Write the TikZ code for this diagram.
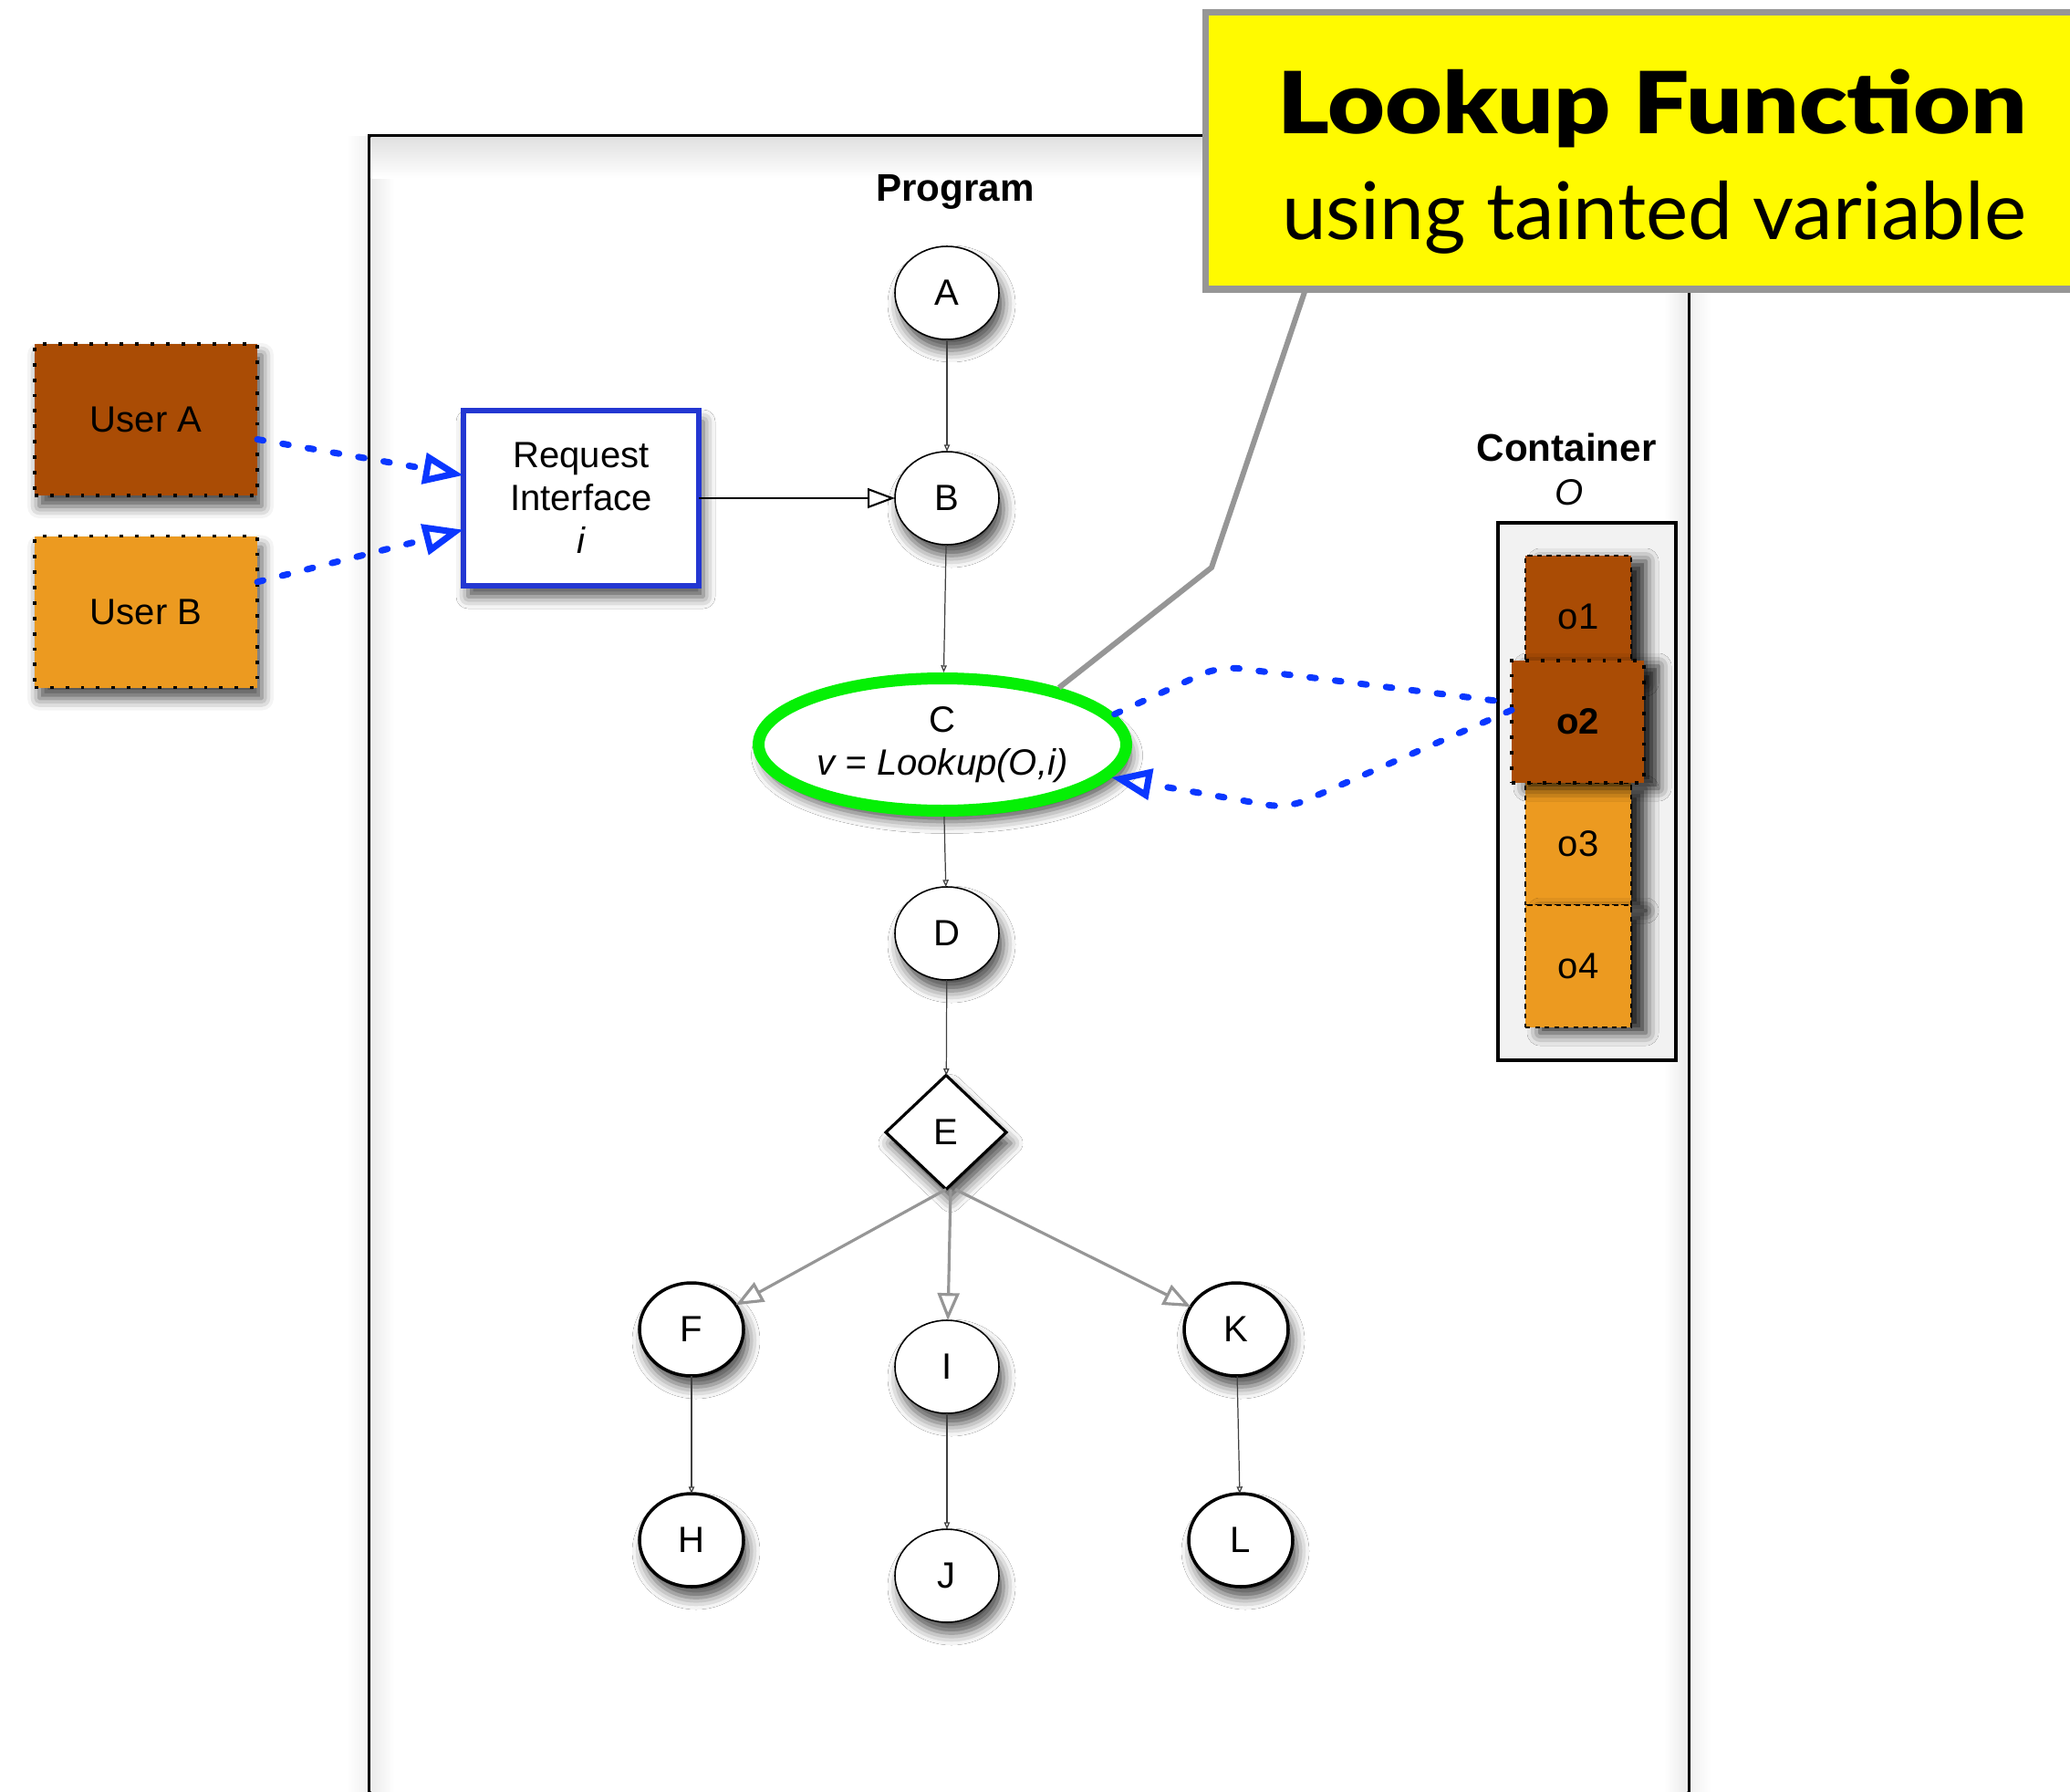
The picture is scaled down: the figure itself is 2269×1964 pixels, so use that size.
\documentclass[tikz,border=0pt]{standalone}
\usepackage{fontspec}
\setmainfont{Liberation Sans}
\newfontfamily\titlefont{Lato}
\newfontfamily\titleheavy{Lato Black}
\usetikzlibrary{arrows.meta,shapes.geometric,shadows.blur}

\definecolor{ubrown}{RGB}{170,76,5}
\definecolor{uorange}{RGB}{236,154,32}
\definecolor{ablue}{RGB}{10,55,255}
\definecolor{riblue}{RGB}{35,55,210}
\definecolor{cgreen}{RGB}{5,240,5}
\definecolor{tyellow}{RGB}{255,250,0}
\definecolor{egray}{RGB}{150,150,150}

\begin{document}
\begin{tikzpicture}[x=0.1mm,y=-0.1mm,
  every node/.style={font=\fontsize{11.4}{13.4}\selectfont, inner sep=0pt, outer sep=0pt},
  softshadow/.style={blur shadow={shadow xshift=0.5mm, shadow yshift=-1.2mm, shadow blur radius=1.3mm, shadow opacity=70}},
  stackshadow/.style={blur shadow={shadow xshift=1.6mm, shadow yshift=-0.6mm, shadow blur radius=1.4mm, shadow opacity=85}},
  thinnode/.style={ellipse, draw, line width=0.45pt, fill=white, minimum width=11.4mm, minimum height=10.2mm, softshadow},
  thicknode/.style={thinnode, line width=1pt},
  flow/.style={draw=black!75, line width=0.35pt, -{Triangle[open,length=2.2pt,width=1.8pt]}},
  branch/.style={draw=egray, line width=0.9pt, -{Triangle[open,length=8.5pt,width=6.8pt]}},
  taint/.style={draw=ablue, line width=2pt, line cap=round, dash pattern=on 1.9pt off 6.1pt},
  taintarrow/.style={taint, -{Triangle[open,length=12.5pt,width=9.5pt]}},
  userbox/.style={rectangle, draw=black, line width=1.1pt, dash pattern=on 1.1pt off 3.7pt, minimum width=24.4mm, minimum height=16.6mm, softshadow},
  objbox/.style={rectangle, draw=black, line width=0.4pt, dash pattern=on 1.5pt off 1.5pt, minimum width=11.6mm, minimum height=13.4mm, stackshadow},
  boldlabel/.style={font=\fontsize{12}{14}\selectfont\bfseries, anchor=base},
]
\useasboundingbox (0,0) rectangle (2269,1964);
\clip (0,0) rectangle (2269,1964);

% Program box
\shade[left color=white, right color=black!6] (380,149) rectangle (405,1964);
\shade[left color=black!6, right color=white] (1851,149) rectangle (1876,1964);
\draw[line width=1pt, fill=white] (405,149) rectangle (1851,2000);
\shade[left color=black!8, right color=white] (406.5,150.5) rectangle (432,1964);
\shade[left color=white, right color=black!8] (1824,150.5) rectangle (1849.5,1964);
\shade[top color=black!12, bottom color=white] (406.5,150.5) rectangle (1849.5,195);
\node[boldlabel] (proglabel) at (1047,220) {Program};

% users and interface
\node[userbox, fill=ubrown] (UA) at (160,460) {User A};
\node[userbox, fill=uorange] (UB) at (160,670.5) {User B};
\node[rectangle, draw=riblue, line width=1.7pt, fill=white, minimum width=25.8mm, minimum height=19.2mm, align=center, softshadow] (RI) at (637,546) {Request\\Interface\\\textit{i}};

% program nodes
\node[thinnode] (A) at (1038,321) {A};
\node[thinnode] (B) at (1038,546) {B};
\node[ellipse, draw=cgreen, line width=3.7pt, fill=white, minimum width=40.3mm, minimum height=14.5mm, outer sep=1.85pt, align=center, softshadow] (C) at (1033,816) {C\\\textit{v = Lookup(O,i)}};
\node[thinnode] (D) at (1038,1023) {D};
\node[diamond, draw, line width=0.9pt, fill=white, aspect=1, minimum width=13.2mm, minimum height=12.5mm, softshadow] (E) at (1037,1241) {E};
\node[thicknode] (F) at (758,1457) {F};
\node[thinnode] (I) at (1038,1498) {I};
\node[thicknode] (K) at (1355,1457) {K};
\node[thicknode] (H) at (758,1688) {H};
\node[thinnode] (J) at (1038,1727) {J};
\node[thicknode] (L) at (1360,1688) {L};

% container
\node[boldlabel] (contlabel) at (1717,505) {Container};
\node[anchor=base] (contO) at (1720,553) {\textit{O}};
\node[rectangle, draw, line width=1pt, fill=black!5, minimum width=19.5mm, minimum height=58.9mm] (cont) at (1739.5,867.5) {};
\node[objbox, fill=ubrown] (o1) at (1730,676) {o1};
\node[objbox, fill=uorange] (o3) at (1730,925) {o3};
\node[objbox, fill=uorange] (o4) at (1730,1059) {o4};
\node[rectangle, draw=black, line width=1.1pt, dash pattern=on 1.1pt off 3.7pt, fill=ubrown, minimum width=14.5mm, minimum height=13.4mm, stackshadow, font=\fontsize{11.4}{13.4}\selectfont\bfseries] (o2) at (1729.5,791) {o2};

% flow edges
\draw[flow] (A) -- (B);
\draw[flow] (B) -- (C);
\draw[flow] (C) -- (D);
\draw[flow] (D) -- (E);
\draw[flow] (F) -- (H);
\draw[flow] (I) -- (J);
\draw[flow] (K) -- (L);
\draw[branch] (E.south) -- (F);
\draw[branch] ([xshift=0.5mm]E.south) -- (I);
\draw[branch] ([xshift=1mm]E.south) -- (K);
\draw[line width=0.6pt, -{Triangle[open,length=8.5pt,width=6.2pt]}] (RI) -- (B);

% tainted data flow
\draw[taintarrow] (UA.-10) -- (RI.169);
\draw[taintarrow] (UB.15) -- (RI.195);
\coordinate (ub) at (1337,730);
\coordinate (lb) at (1411,886);
\draw[taint, rounded corners=6pt] (C.10) -- (ub) -- (o2.164);
\draw[taintarrow, rounded corners=6pt] (o2.170) -- (lb) -- (C.-11);

% callout
\coordinate (cb) at (1328,622);
\coordinate (ce) at (1430,320);
\draw[egray, line width=1.7pt] (C.26) -- (cb) -- (ce);
\node[rectangle, draw=egray, line width=2pt, fill=tyellow, anchor=north west, minimum width=97.85mm, minimum height=30.35mm] (title) at (1321.5,13.5) {};
\node[anchor=base, font=\titleheavy\fontsize{26.7}{30}\selectfont] (t1) at (1811,146) {\resizebox{82.2mm}{\height}{Lookup Function}};
\node[anchor=base, font=\titlefont\fontsize{24.8}{28}\selectfont] (t2) at (1813,262) {\resizebox{81.6mm}{\height}{using tainted variable}};
\end{tikzpicture}
\end{document}
